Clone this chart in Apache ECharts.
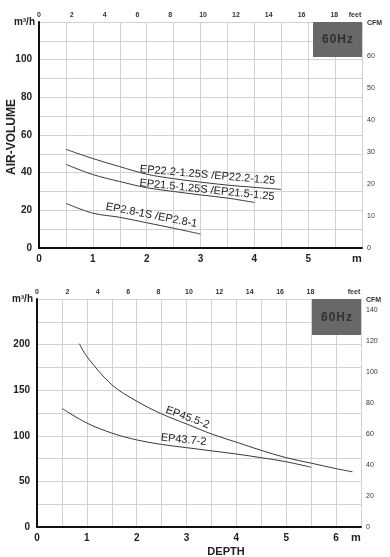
<!DOCTYPE html>
<html><head><meta charset="utf-8">
<script src="https://cdn.jsdelivr.net/npm/echarts@6/dist/echarts.min.js"></script>
<style>html,body{margin:0;padding:0;background:#fff}#c{width:390px;height:557px}</style>
</head><body><div id="c"></div>
<script>
// ---- data (depth in m, air volume in m³/h) ----
const depthEP22 = [0.5, 1, 1.5, 2, 2.5, 3, 3.5, 4, 4.5];
const flowEP22  = [52.4, 47.5, 43.2, 39.2, 36.8, 35, 33.4, 32.2, 31.1];
const depthEP21 = [0.5, 1, 1.5, 2, 2.5, 3, 3.5, 4];
const flowEP21  = [44.4, 39, 35.3, 32, 30, 28.2, 26.5, 24.2];
const depthEP28 = [0.5, 1, 1.5, 2, 2.5, 3];
const flowEP28  = [23.7, 18.5, 16.3, 13.4, 10.5, 7.4];
const depthEP45 = [0.85, 1, 1.5, 2, 2.5, 3, 3.5, 4, 4.5, 5, 5.5, 6, 6.33];
const flowEP45  = [201, 187, 156, 138, 124, 113, 102, 93, 84, 76, 70, 64, 60.5];
const depthEP43 = [0.5, 1, 1.5, 2, 2.5, 3, 3.5, 4, 4.5, 5, 5.5];
const flowEP43  = [130, 114, 103, 95.5, 90.5, 87, 83.5, 80, 76, 71.5, 65.5];
const namesTop = ['EP22.2-1.25S /EP22.2-1.25', 'EP21.5-1.25S /EP21.5-1.25', 'EP2.8-1S /EP2.8-1'];
const namesBottom = ['EP45.5-2', 'EP43.7-2'];
const freqLabel = '60Hz';
const M3H_PER_CFM = 1.699;
const M_PER_FOOT = 0.3048;

const FONT = '"Liberation Sans", Arial, sans-serif';
const pairs = (xs, ys) => xs.map((x, i) => [x, ys[i]]);
const isInt = v => Math.abs(v - Math.round(v)) < 1e-9;

const chart = echarts.init(document.getElementById('c'), null, {renderer: 'canvas'});

function depthAxis(grid, max) {
  return {
    gridIndex: grid, type: 'value', position: 'bottom', min: 0, max: max, interval: 0.5,
    axisLine: {lineStyle: {color: '#111', width: 2}}, axisTick: {show: false},
    axisLabel: {formatter: v => (isInt(v) && v < max ? String(v) : ''),
      fontFamily: FONT, fontSize: 10, fontWeight: 'bold', color: '#222', margin: 6},
    splitLine: {show: true, lineStyle: {color: '#d2d2d2', width: 1}}
  };
}
function feetAxis(grid, maxM) {
  return {
    gridIndex: grid, type: 'value', position: 'top', min: 0, max: maxM / M_PER_FOOT, interval: 2,
    axisLine: {show: false}, axisTick: {show: false}, splitLine: {show: false},
    axisLabel: {formatter: v => (isInt(v) && v <= 18 ? String(v) : ''),
      fontFamily: FONT, fontSize: 7, fontWeight: 'bold', color: '#333', margin: 3}
  };
}
function flowAxis(grid, max, step, labelStep) {
  return {
    gridIndex: grid, type: 'value', position: 'left', min: 0, max: max, interval: step,
    axisLine: {show: true, lineStyle: {color: '#111', width: 2}}, axisTick: {show: false},
    axisLabel: {formatter: v => (v % labelStep === 0 && v < max ? String(v) : ''),
      fontFamily: FONT, fontSize: 10, fontWeight: 'bold', color: '#222', margin: 7},
    splitLine: {show: true, lineStyle: {color: '#d2d2d2', width: 1}}
  };
}
function cfmAxis(grid, maxFlow, step, lastLabel) {
  return {
    gridIndex: grid, type: 'value', position: 'right', min: 0, max: maxFlow / M3H_PER_CFM, interval: step,
    axisLine: {show: false}, axisTick: {show: false}, splitLine: {show: false},
    axisLabel: {formatter: v => (isInt(v) && v <= lastLabel ? String(v) : ''),
      fontFamily: FONT, fontSize: 7, color: '#333', margin: 5}
  };
}
function curve(name, xi, yi, data) {
  return {name, type: 'line', xAxisIndex: xi, yAxisIndex: yi, data, smooth: 0.35,
    symbol: 'none', silent: true, lineStyle: {color: '#3a3a3a', width: 1}};
}

chart.setOption({
  animation: false,
  backgroundColor: '#fff',
  grid: [
    {left: 39, top: 22, width: 323, height: 226},
    {left: 37, top: 299, width: 324, height: 228}
  ],
  xAxis: [depthAxis(0, 6), feetAxis(0, 6), depthAxis(1, 6.5), feetAxis(1, 6.5)],
  yAxis: [flowAxis(0, 120, 10, 20), cfmAxis(0, 120, 10, 60), flowAxis(1, 250, 25, 50), cfmAxis(1, 250, 20, 140)],
  series: [
    curve(namesTop[0], 0, 0, pairs(depthEP22, flowEP22)),
    curve(namesTop[1], 0, 0, pairs(depthEP21, flowEP21)),
    curve(namesTop[2], 0, 0, pairs(depthEP28, flowEP28)),
    curve(namesBottom[0], 2, 2, pairs(depthEP45, flowEP45)),
    curve(namesBottom[1], 2, 2, pairs(depthEP43, flowEP43))
  ]
});

// label anchors in data coordinates
const topLabels = [
  {text: namesTop[0], at: [3.13, 38.7], angle: 5},
  {text: namesTop[1], at: [3.12, 30.8], angle: 6},
  {text: namesTop[2], at: [2.09, 17.3], angle: 11}
];
const bottomLabels = [
  {text: namesBottom[0], at: [3.02, 120], angle: 20},
  {text: namesBottom[1], at: [2.94, 95.6], angle: 6}
];
const px = (g, p) => chart.convertToPixel({xAxisIndex: g === 0 ? 0 : 2, yAxisIndex: g === 0 ? 0 : 2}, p);

const graphics = [];
function txt(x, y, text, font, align, extra) {
  graphics.push(Object.assign({type: 'text', x, y, silent: true,
    style: {text, fill: '#222', font, textAlign: align, textVerticalAlign: 'middle'}}, extra || {}));
}
function labelEls(list, g) {
  list.forEach(l => {
    const p = px(g, l.at);
    txt(p[0], p[1], l.text, '11px ' + FONT, 'center', {rotation: -l.angle * Math.PI / 180});
  });
}
labelEls(topLabels, 0);
labelEls(bottomLabels, 1);

function frame(g, xMax, yMax, h) {
  const tr = px(g, [xMax, yMax]);   // top-right of plot
  const tl = px(g, [0, yMax]);      // top-left
  const br = px(g, [xMax, 0]);      // bottom-right
  const w = 49;
  graphics.push({type: 'rect', shape: {x: tr[0] - w, y: tr[1], width: w, height: h}, silent: true,
    style: {fill: '#686868'}});
  graphics.push({type: 'text', x: tr[0] - w / 2, y: tr[1] + h / 2 + 0.5, silent: true,
    style: {text: freqLabel.split('').join('\u200A'), fill: '#303030', font: 'bold 12px ' + FONT,
      textAlign: 'center', textVerticalAlign: 'middle'}});
  txt(tl[0] - 4, tl[1], 'm³/h', 'bold 10px ' + FONT, 'right');
  txt(tr[0] + 5, tr[1] + 1, 'CFM', 'bold 7px ' + FONT, 'left', {style: {text: 'CFM', fill: '#333', font: 'bold 7px ' + FONT, textAlign: 'left', textVerticalAlign: 'middle'}});
  graphics.push({type: 'text', x: tr[0] - 7, y: tr[1] - 6.5, silent: true,
    style: {text: 'feet', fill: '#333', font: 'bold 7px ' + FONT, textAlign: 'center', textVerticalAlign: 'middle'}});
  txt(br[0] - 5, br[1] + 11, 'm', 'bold 11px ' + FONT, 'center');
}
frame(0, 6, 120, 35);
frame(1, 6.5, 250, 36);

txt(12, 137, 'AIR-VOLUME', 'bold 12px ' + FONT, 'center', {rotation: Math.PI / 2});
txt(226, 552, 'DEPTH', 'bold 11px ' + FONT, 'center');

chart.setOption({graphic: graphics});
</script>
</body></html>
